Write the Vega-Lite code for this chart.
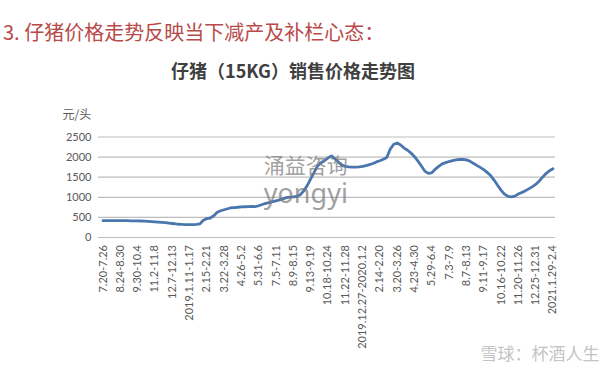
{
  "$schema": "https://vega.github.io/schema/vega-lite/v6.json",
  "width": 457,
  "height": 100.5,
  "autosize": {"type": "none"},
  "padding": {"left": 98, "top": 137, "right": 55, "bottom": 132.5},
  "background": "white",
  "config": {
    "view": {"stroke": null},
    "font": "Lato",
    "axisX": {
      "tickCount": 27,
      "grid": false,
      "domain": false,
      "ticks": false,
      "labelAngle": -90,
      "labelFont": "Lato",
      "labelFontSize": 11,
      "labelColor": "#595959",
      "labelPadding": 7,
      "labelOverlap": false,
      "labelBound": false,
      "labelFlush": false
    },
    "axisY": {
      "tickCount": 6,
      "grid": false,
      "domain": false,
      "ticks": false,
      "labelFont": "Lato",
      "labelFontSize": 11,
      "labelColor": "#595959",
      "labelPadding": 7,
      "labelOverlap": false
    }
  },
  "title": {
    "text": "3. 仔猪价格走势反映当下减产及补栏心态：",
    "anchor": "start",
    "frame": "group",
    "dx": -95,
    "offset": 20,
    "font": "Noto Sans CJK SC",
    "fontSize": 20,
    "fontWeight": "normal",
    "color": "#b84a4a"
  },
  "datasets": {
    "gridvals": [{"g": 0}, {"g": 500}, {"g": 1000}, {"g": 1500}, {"g": 2000}, {"g": 2500}],
    "price": [
      {"w":0,"p":420},{"w":1,"p":421},{"w":2,"p":420},{"w":3,"p":421},{"w":4,"p":420},
      {"w":5,"p":419},{"w":6,"p":420},{"w":7,"p":418},{"w":8,"p":416},{"w":9,"p":415},
      {"w":10,"p":413},{"w":11,"p":410},{"w":12,"p":406},{"w":13,"p":401},{"w":14,"p":396},
      {"w":15,"p":390},{"w":16,"p":384},{"w":17,"p":377},{"w":18,"p":368},{"w":19,"p":358},
      {"w":20,"p":348},{"w":21,"p":338},{"w":22,"p":330},{"w":23,"p":324},{"w":24,"p":320},
      {"w":25,"p":319},{"w":26,"p":321},{"w":27,"p":326},{"w":28,"p":338},{"w":29,"p":430},
      {"w":30,"p":470},{"w":31,"p":485},{"w":32,"p":540},{"w":33,"p":630},{"w":34,"p":665},
      {"w":35,"p":690},{"w":36,"p":715},{"w":37,"p":740},{"w":38,"p":745},{"w":39,"p":752},
      {"w":40,"p":760},{"w":41,"p":765},{"w":42,"p":770},{"w":43,"p":772},{"w":44,"p":770},
      {"w":45,"p":790},{"w":46,"p":820},{"w":47,"p":850},{"w":48,"p":868},{"w":49,"p":890},
      {"w":50,"p":912},{"w":51,"p":935},{"w":52,"p":962},{"w":53,"p":990},{"w":54,"p":1003},
      {"w":55,"p":1012},{"w":56,"p":1025},{"w":57,"p":1065},{"w":58,"p":1160},{"w":59,"p":1290},
      {"w":60,"p":1460},{"w":61,"p":1620},{"w":62,"p":1780},{"w":63,"p":1860},{"w":64,"p":1910},
      {"w":65,"p":1980},{"w":66,"p":2030},{"w":67,"p":1960},{"w":68,"p":1880},{"w":69,"p":1800},
      {"w":70,"p":1770},{"w":71,"p":1758},{"w":72,"p":1752},{"w":73,"p":1750},{"w":74,"p":1758},
      {"w":75,"p":1770},{"w":76,"p":1790},{"w":77,"p":1812},{"w":78,"p":1842},{"w":79,"p":1880},
      {"w":80,"p":1910},{"w":81,"p":1945},{"w":82,"p":1990},{"w":83,"p":2200},{"w":84,"p":2320},
      {"w":85,"p":2350},{"w":86,"p":2300},{"w":87,"p":2225},{"w":88,"p":2170},{"w":89,"p":2100},
      {"w":90,"p":2010},{"w":91,"p":1900},{"w":92,"p":1780},{"w":93,"p":1650},{"w":94,"p":1595},
      {"w":95,"p":1610},{"w":96,"p":1700},{"w":97,"p":1770},{"w":98,"p":1830},{"w":99,"p":1862},
      {"w":100,"p":1890},{"w":101,"p":1912},{"w":102,"p":1930},{"w":103,"p":1940},{"w":104,"p":1940},
      {"w":105,"p":1930},{"w":106,"p":1900},{"w":107,"p":1845},{"w":108,"p":1795},{"w":109,"p":1745},
      {"w":110,"p":1690},{"w":111,"p":1620},{"w":112,"p":1540},{"w":113,"p":1430},{"w":114,"p":1300},
      {"w":115,"p":1180},{"w":116,"p":1080},{"w":117,"p":1025},{"w":118,"p":1010},{"w":119,"p":1030},
      {"w":120,"p":1080},{"w":121,"p":1120},{"w":122,"p":1160},{"w":123,"p":1210},{"w":124,"p":1260},
      {"w":125,"p":1320},{"w":126,"p":1400},{"w":127,"p":1500},{"w":128,"p":1590},{"w":129,"p":1660},
      {"w":130,"p":1710}
    ]
  },
  "layer": [
    {
      "data": {"name": "gridvals"},
      "mark": {"type": "rule", "color": "#bdbdbd", "strokeWidth": 1.2},
      "encoding": {
        "y": {
          "field": "g",
          "type": "quantitative",
          "scale": {"domain": [0, 2500], "nice": false},
          "axis": {
            "format": "d",
            "title": "元/头",
            "titleAngle": 0,
            "titleAlign": "left",
            "titleBaseline": "middle",
            "titleX": -36,
            "titleY": -23,
            "titleFont": "Noto Sans CJK SC",
            "titleFontSize": 12,
            "titleFontWeight": "normal",
            "titleColor": "#595959"
          }
        }
      }
    },
    {
      "data": {"name": "price"},
      "mark": {"type": "line", "color": "#4a76ae", "strokeWidth": 2.8, "strokeCap": "round", "strokeJoin": "round"},
      "encoding": {
        "x": {
          "field": "w",
          "type": "quantitative",
          "scale": {"domain": [-1.45, 130.6], "nice": false, "zero": false},
          "axis": {
            "labelExpr": "['7.20-7.26','8.24-8.30','9.30-10.4','11.2-11.8','12.7-12.13','2019.1.11-1.17','2.15-2.21','3.22-3.28','4.26-5.2','5.31-6.6','7.5-7.11','8.9-8.15','9.13-9.19','10.18-10.24','11.22-11.28','2019.12.27-2020.1.2','2.14-2.20','3.20-3.26','4.23-4.30','5.29-6.4','7.3-7.9','8.7-8.13','9.11-9.17','10.16-10.22','11.20-11.26','12.25-12.31','2021.1.29-2.4'][round(datum.value/5)]",
            "labelAngle": -90,
            "title": null
          }
        },
        "y": {
          "field": "p",
          "type": "quantitative",
          "scale": {"domain": [0, 2500], "nice": false},
          "axis": {
            "format": "d",
            "title": "元/头",
            "titleAngle": 0,
            "titleAlign": "left",
            "titleBaseline": "middle",
            "titleX": -36,
            "titleY": -23,
            "titleFont": "Noto Sans CJK SC",
            "titleFontSize": 12,
            "titleFontWeight": "normal",
            "titleColor": "#595959"
          }
        }
      }
    },
    {
      "data": {"values": [{"t": "仔猪（15KG）销售价格走势图"}]},
      "mark": {"type": "text", "font": "Noto Sans CJK SC", "fontSize": 18, "fontWeight": "bold", "color": "#404040", "align": "center", "baseline": "middle"},
      "encoding": {
        "x": {"datum": 54.9, "type": "quantitative"},
        "y": {"datum": 4104, "type": "quantitative"},
        "text": {"field": "t"}
      }
    },
    {
      "data": {"values": [{"t": "涌益咨询"}]},
      "mark": {"type": "text", "font": "Noto Sans CJK SC", "fontSize": 21, "color": "#7a7a7a", "opacity": 0.7, "align": "center", "baseline": "middle"},
      "encoding": {
        "x": {"datum": 58.6, "type": "quantitative"},
        "y": {"datum": 1760, "type": "quantitative"},
        "text": {"field": "t"}
      }
    },
    {
      "data": {"values": [{"t": "yongyi"}]},
      "mark": {"type": "text", "font": "Noto Sans", "fontSize": 27, "color": "#7a7a7a", "opacity": 0.7, "align": "center", "baseline": "middle"},
      "encoding": {
        "x": {"datum": 58.6, "type": "quantitative"},
        "y": {"datum": 1060, "type": "quantitative"},
        "text": {"field": "t"}
      }
    },
    {
      "data": {"values": [{"t": "雪球：杯酒人生"}]},
      "mark": {"type": "text", "font": "Noto Sans CJK SC", "fontSize": 17, "color": "#c4c4c4", "align": "center", "baseline": "middle"},
      "encoding": {
        "x": {"datum": 126.3, "type": "quantitative"},
        "y": {"datum": -2923, "type": "quantitative"},
        "text": {"field": "t"}
      }
    }
  ]
}
